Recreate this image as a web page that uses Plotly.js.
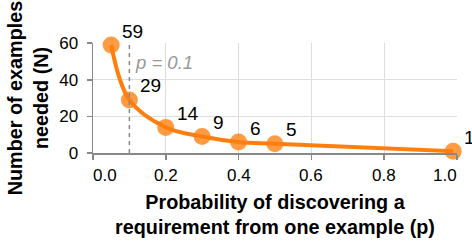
<!DOCTYPE html>
<html>
<head>
<meta charset="utf-8">
<script src="https://cdn.plot.ly/plotly-3.0.1.min.js"></script>
<style>html,body{margin:0;padding:0;background:#fff;}#chart{width:472px;height:244px;}</style>
</head>
<body>
<div id="chart"></div>
<script>
// Data
var pValues = [0.05, 0.1, 0.2, 0.3, 0.4, 0.5, 0.99];
var nValues = [59, 29, 14, 9, 6, 5, 1];
var nLabels = ["59", "29", "14", "9", "6", "5", "1"];
var xTickVals = [0, 0.2, 0.4, 0.6, 0.8, 1.0];
var xTickText = ["0.0", "0.2", "0.4", "0.6", "0.8", "1.0"];
var yTickVals = [0, 20, 40, 60];
var refP = 0.1;
var refLabel = "p = 0.1";

var FONT = "Liberation Sans, Arial, Helvetica, sans-serif";
var ORANGE = "#ff7f0e";

var traces = [
  {
    x: pValues, y: nValues, type: "scatter", mode: "lines",
    line: {color: ORANGE, width: 4, shape: "spline", smoothing: 1},
    hoverinfo: "skip", cliponaxis: false
  },
  {
    x: pValues, y: nValues, type: "scatter", mode: "markers",
    marker: {color: ORANGE, size: 17, opacity: 0.78, line: {width: 0}},
    cliponaxis: false
  }
];

var annotations = [];
for (var i = 0; i < pValues.length; i++) {
  annotations.push({
    x: pValues[i], y: nValues[i], xref: "x", yref: "y",
    text: nLabels[i], showarrow: false,
    xanchor: "left", yanchor: "middle", xshift: 9, yshift: 14,
    font: {family: FONT, size: 19, color: "#000"}
  });
}
for (var j = 0; j < xTickVals.length; j++) {
  var anch = j === 0 ? "left" : (j === xTickVals.length - 1 ? "right" : "center");
  annotations.push({
    x: xTickVals[j], y: 0, xref: "x", yref: "paper",
    text: xTickText[j], showarrow: false,
    xanchor: anch, yanchor: "top", yshift: -11,
    xshift: j === 0 ? -2 : (j === xTickVals.length - 1 ? 2 : 0),
    font: {family: FONT, size: 17, color: "#000"}
  });
}
annotations.push({
  x: refP, y: 1, xref: "x", yref: "paper",
  text: "<i>" + refLabel + "</i>", showarrow: false,
  xanchor: "left", yanchor: "top", xshift: 4, yshift: -7,
  font: {family: FONT, size: 18.5, color: "#999"}
});

var layout = {
  width: 472, height: 244,
  margin: {l: 93, r: 15, t: 43, b: 91, pad: 0},
  paper_bgcolor: "#fff", plot_bgcolor: "#fff",
  showlegend: false,
  font: {family: FONT, color: "#000"},
  xaxis: {
    range: [0, 1.0005], tickvals: xTickVals, showticklabels: false,
    showgrid: true, gridcolor: "#ddd", gridwidth: 1,
    zeroline: false, showline: true, linecolor: "#888", linewidth: 1.5,
    ticks: "outside", ticklen: 5, tickcolor: "#888", tickwidth: 1.5,
    title: {text: "<b>Probability of discovering a<br>requirement from one example (p)</b>",
            font: {family: FONT, size: 19.8, color: "#000"}, standoff: 36},
    automargin: false
  },
  yaxis: {
    range: [0, 60.1], tickvals: yTickVals,
    showgrid: true, gridcolor: "#ddd", gridwidth: 1,
    zeroline: false, showline: true, linecolor: "#888", linewidth: 1.5,
    ticks: "outside", ticklen: 5, tickcolor: "#888", tickwidth: 1.5,
    tickfont: {family: FONT, size: 17, color: "#000"},
    ticklabelstandoff: 5,
    title: {text: "<b>Number of examples<br>needed (N)</b>",
            font: {family: FONT, size: 19.8, color: "#000"}, standoff: 5},
    automargin: false
  },
  shapes: [{
    type: "line", xref: "x", yref: "y",
    x0: refP, x1: refP, y0: 0, y1: 60,
    line: {color: "#888", width: 1.5, dash: "4px,4px"}
  }],
  annotations: annotations
};

Plotly.newPlot("chart", traces, layout, {staticPlot: true, displayModeBar: false});
</script>
</body>
</html>
